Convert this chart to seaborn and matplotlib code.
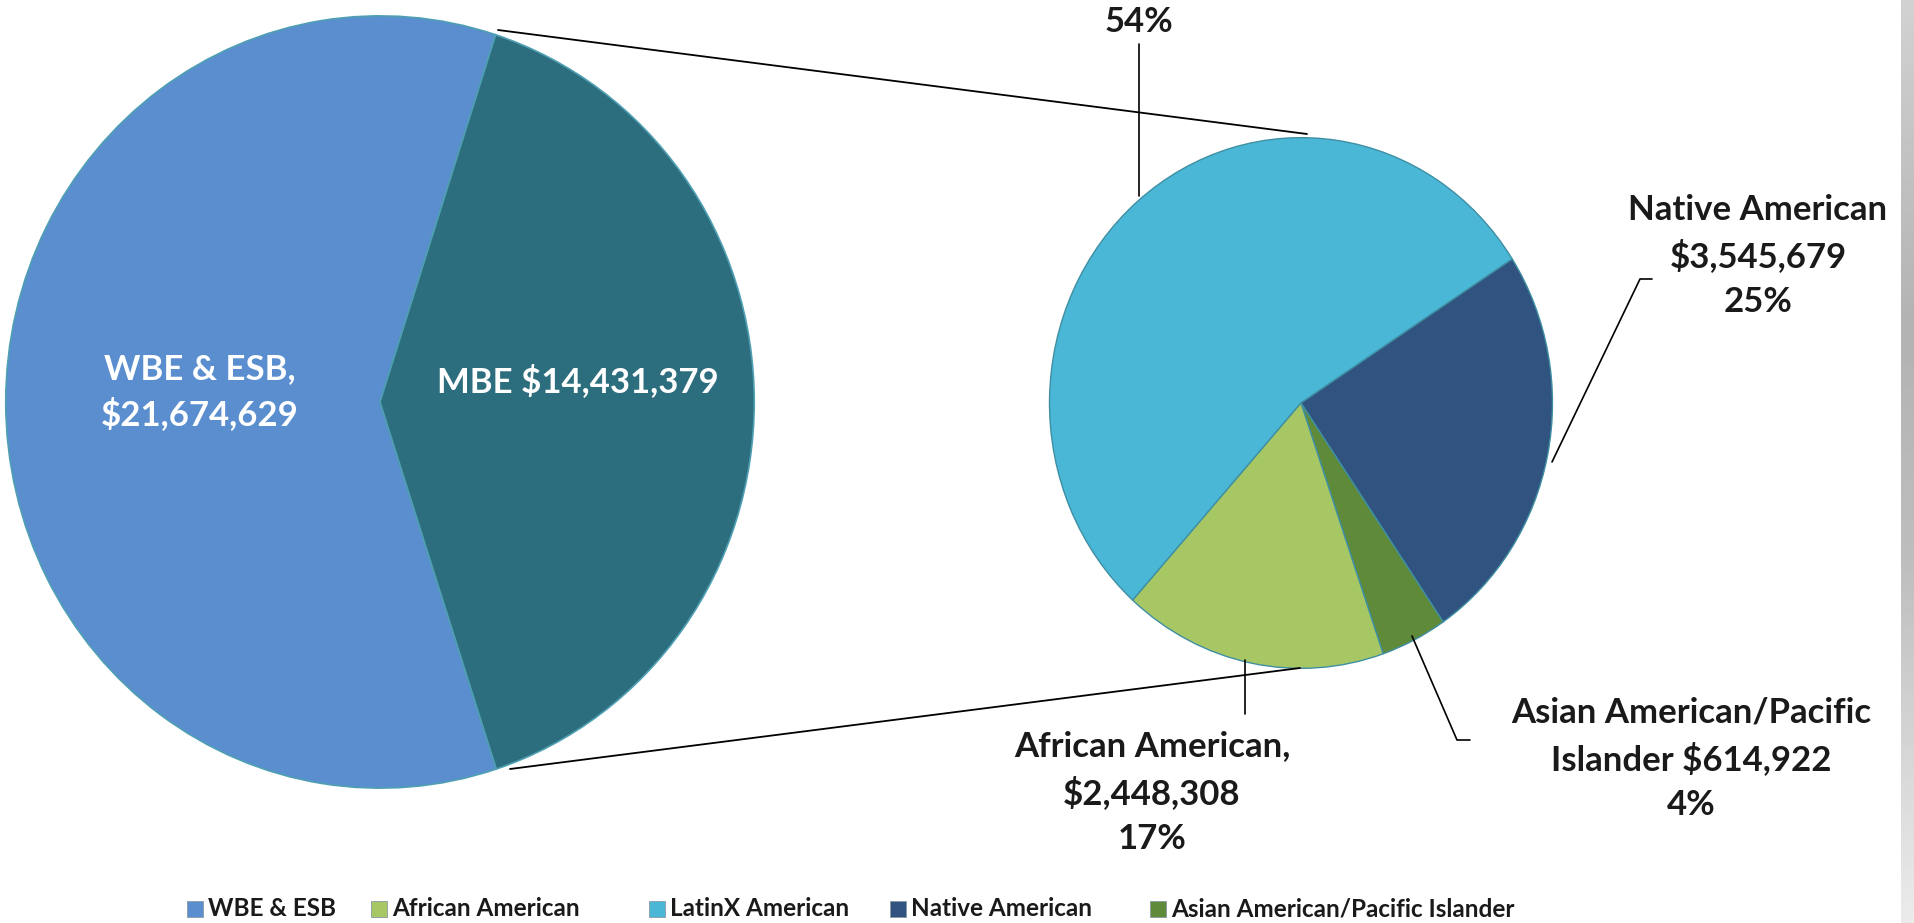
import numpy as np
import matplotlib
matplotlib.use("Agg")
import matplotlib.pyplot as plt
import seaborn as sns
from matplotlib.patches import Rectangle

# main split
main_labels = ["WBE & ESB", "MBE"]
main_values = [21674629, 14431379]

# MBE breakdown (clockwise from LatinX)
sub_labels = ["LatinX American", "Native American", "Asian American/Pacific Islander", "African American"]
sub_values = [7822470, 3545679, 614922, 2448308]
sub_pcts = ["54%", "25%", "4%", "17%"]

legend_labels = ["WBE & ESB", "African American", "LatinX American", "Native American",
                 "Asian American/Pacific Islander"]

colors = {
    "WBE & ESB": "#5a8ecf",
    "MBE": "#2d6e7e",
    "LatinX American": "#4bb7d6",
    "Native American": "#30537f",
    "Asian American/Pacific Islander": "#5e8a3a",
    "African American": "#a6c763",
}

sns.set_theme(style="white")
plt.rcParams['font.family'] = ['Lato', 'DejaVu Sans']

W, H = 1915, 923
fig = plt.figure(figsize=(W / 100, H / 100), dpi=100)
fig.patch.set_facecolor("white")


def px_axes(cx, cy, rx, ry):
    # axes box in pixel units (y from top)
    return fig.add_axes([(cx - rx) / W, (H - (cy + ry)) / H, 2 * rx / W, 2 * ry / H])


# left pie
ax1 = px_axes(380, 402, 378, 390)
ax1.pie(main_values, colors=[colors[k] for k in main_labels], startangle=72,
        counterclock=True, radius=1, frame=True,
        wedgeprops=dict(edgecolor="#4f9fb3", linewidth=1.2))
ax1.set_aspect("auto")
ax1.set_xlim(-1.01, 1.01)
ax1.set_ylim(-1.01, 1.01)
ax1.axis("off")

# right pie
ax2 = px_axes(1301, 403, 254, 268)
ax2.pie(sub_values, colors=[colors[k] for k in sub_labels], startangle=228,
        counterclock=False, radius=1, frame=True,
        wedgeprops=dict(edgecolor="#3f8fa3", linewidth=1.0))
ax2.set_aspect("auto")
ax2.set_xlim(-1.01, 1.01)
ax2.set_ylim(-1.01, 1.01)
ax2.axis("off")

# overlay in pixel coords
ov = fig.add_axes([0, 0, 1, 1], zorder=5)
ov.patch.set_alpha(0)
ov.axis("off")

# connector lines between pies
ov.plot([498, 1307], [30, 134], color="black", lw=1.3)
ov.plot([510, 1300], [769, 668], color="black", lw=1.3)

# leader lines
ov.plot([1139, 1139], [44, 196], color="black", lw=1.2)
ov.plot([1652, 1640, 1552], [279, 279, 462], color="black", lw=1.2)
ov.plot([1470, 1457, 1412], [740, 740, 636], color="black", lw=1.2)
ov.plot([1245, 1245], [660, 714], color="black", lw=1.2)

fs = 25
txt = dict(ha="center", va="center", fontsize=fs, fontweight="bold")
dark = "#1a1a1a"

ov.text(200, 392, f"{main_labels[0]},\n${main_values[0]:,}", color="white",
        linespacing=1.4, **txt)
ov.text(578, 381, f"{main_labels[1]} ${main_values[1]:,}", color="white", **txt)

# LatinX label: only the percentage line fits inside the picture
ov.text(1139, 22, sub_pcts[0], color=dark, **txt)
ov.text(1758, 256, f"{sub_labels[1]}\n${sub_values[1]:,}\n{sub_pcts[1]}", color=dark,
        linespacing=1.5, **txt)
ov.text(1691, 759, f"Asian American/Pacific\nIslander ${sub_values[2]:,}\n{sub_pcts[2]}",
        color=dark, linespacing=1.5, **txt)
ov.text(1152, 793, f"{sub_labels[3]},\n${sub_values[3]:,}\n{sub_pcts[3]}", color=dark,
        linespacing=1.5, **txt)

# gray bar at right edge
grad = np.interp(np.linspace(0, 1, 200), [0, 0.35, 0.6, 1], [0.82, 0.70, 0.74, 0.92])
ov.imshow(np.tile(grad[:, None], (1, 2)), cmap="gray", vmin=0, vmax=1, aspect="auto",
          extent=[1901, W, H, 0], zorder=0)

# legend, drawn by hand to keep the spacing of the original
leg_x = [187, 371, 649, 890, 1150]
leg_y = 909
for x, lab in zip(leg_x, legend_labels):
    ov.add_patch(Rectangle((x, leg_y - 8), 16, 16, facecolor=colors[lab],
                           edgecolor="#8a9aa5", linewidth=0.6))
    ov.text(x + 21, leg_y, lab, ha="left", va="center", fontsize=17.5,
            fontweight="bold", color=dark)

ov.set_xlim(0, W)
ov.set_ylim(H, 0)

fig.savefig("out.png", dpi=100, facecolor="white")
